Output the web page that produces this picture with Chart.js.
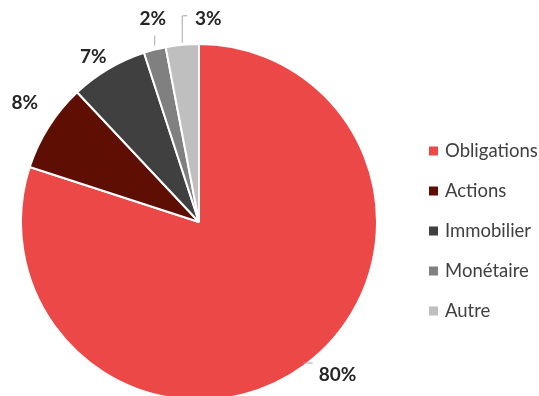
<!DOCTYPE html>
<html lang="fr">
<head>
<meta charset="UTF-8">
<title>Répartition</title>
<script src="https://cdn.jsdelivr.net/npm/chart.js"></script>
<style>
  html, body { margin: 0; padding: 0; background: #fff; overflow: hidden; }
  #wrap { width: 539px; height: 404px; }
</style>
</head>
<body>
<div id="wrap"><canvas id="pie" width="539" height="404"></canvas></div>
<script>
const categories = ['Obligations', 'Actions', 'Immobilier', 'Monétaire', 'Autre'];
const shares = [80, 8, 7, 2, 3];
const colors = ['#ED4848', '#5E0E02', '#404040', '#808080', '#BFBFBF'];

// where each percentage label sits relative to the slice's outer edge
const labelOffsets = [[34, 9], [-24, -24], [-15, -12], [-2, -31], [26, -26]];
const leaderLines = ['side', null, null, 'up', 'elbow'];

const labelFont = 'bold 19px Lato, "Open Sans", sans-serif';
const legendFont = '18.5px Lato, "Open Sans", sans-serif';

const pctLabels = {
  id: 'pctLabels',
  afterDatasetsDraw(chart) {
    const ctx = chart.ctx;
    const arcs = chart.getDatasetMeta(0).data;
    ctx.save();
    ctx.font = labelFont;
    ctx.textAlign = 'center';
    ctx.textBaseline = 'middle';
    arcs.forEach((arc, i) => {
      const mid = (arc.startAngle + arc.endAngle) / 2;
      const ex = arc.x + Math.cos(mid) * arc.outerRadius;
      const ey = arc.y + Math.sin(mid) * arc.outerRadius;
      const lx = ex + labelOffsets[i][0];
      const ly = ey + labelOffsets[i][1];
      ctx.strokeStyle = '#A6A6A6';
      ctx.lineWidth = 1;
      ctx.beginPath();
      if (leaderLines[i] === 'side') {
        ctx.moveTo(ex, ey - 3);
        ctx.lineTo(lx - 25, ey - 3);
      } else if (leaderLines[i] === 'up') {
        ctx.moveTo(ex, ey - 4);
        ctx.lineTo(ex, ly + 17);
      } else if (leaderLines[i] === 'elbow') {
        ctx.moveTo(ex, ey - 2);
        ctx.lineTo(ex, ly - 3);
        ctx.lineTo(ex + 5, ly - 3);
      }
      ctx.stroke();
      ctx.fillStyle = '#262626';
      ctx.fillText(shares[i] + '%', lx, ly);
    });
    ctx.restore();
  }
};

const sideLegend = {
  id: 'sideLegend',
  afterDraw(chart) {
    const ctx = chart.ctx;
    ctx.save();
    ctx.font = legendFont;
    ctx.textBaseline = 'middle';
    categories.forEach((name, i) => {
      const y = 151 + i * 40;
      ctx.fillStyle = colors[i];
      ctx.fillRect(429, y - 4.5, 9, 9);
      ctx.fillStyle = '#404040';
      ctx.fillText(name, 445, y);
    });
    ctx.restore();
  }
};

new Chart(document.getElementById('pie'), {
  type: 'pie',
  data: {
    labels: categories,
    datasets: [{
      data: shares,
      backgroundColor: colors,
      borderColor: '#ffffff',
      borderWidth: 2
    }]
  },
  options: {
    responsive: false,
    animation: false,
    layout: { padding: { left: 20, top: 43, right: 161, bottom: 3 } },
    plugins: {
      legend: { display: false },
      tooltip: { enabled: false }
    }
  },
  plugins: [pctLabels, sideLegend]
});
</script>
</body>
</html>
